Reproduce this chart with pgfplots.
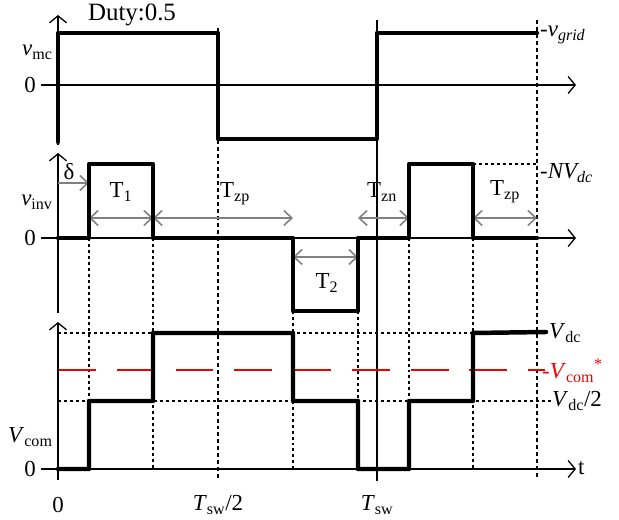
\documentclass[border=0pt]{standalone}
\usepackage{fontspec}
\setmainfont{Liberation Serif}
\usepackage{pgfplots}
\pgfplotsset{compat=1.18}
\usetikzlibrary{arrows.meta}
\newcommand{\sub}[1]{\textsubscript{#1}}
\definecolor{arrgray}{RGB}{128,128,128}
\definecolor{myred}{RGB}{240,0,0}
\begin{document}
\begin{tikzpicture}[font=\fontsize{23}{26}\selectfont]
\begin{axis}[width=619bp,height=520bp,scale only axis,
  xmin=0,xmax=619,ymin=0,ymax=520,y dir=reverse,hide axis,clip=false,
  ax/.style={black,line width=1.2pt,-{Straight Barb[length=7pt,width=17pt,line width=1.3pt]}},
  axn/.style={black,line width=1.2pt},
  wave/.style={black,line width=4.5pt,line join=round,line cap=round},
  thindot/.style={black,line width=1.4pt,dash pattern=on 3pt off 3pt},
  thickdot/.style={black,line width=2.4pt,dash pattern=on 4pt off 3pt},
  garr/.style={arrgray,line width=1.6pt,{Straight Barb[length=8pt,width=15pt,line width=1.6pt]}-{Straight Barb[length=8pt,width=15pt,line width=1.6pt]}},
  garr1/.style={arrgray,line width=1.6pt,-{Straight Barb[length=8pt,width=15pt,line width=1.6pt]}},
]
\path (axis cs:0,0) rectangle (axis cs:619,520);
% ---------- guide lines ----------
\addplot[thickdot] coordinates {(218,28) (218,478)};
\addplot[thickdot] coordinates {(537,20) (537,477)};
\addplot[axn] coordinates {(377,20) (377,481)};
\addplot[thindot] coordinates {(89,238) (89,469)};
\addplot[thindot] coordinates {(153,238) (153,469)};
\addplot[thindot] coordinates {(293,311) (293,469)};
\addplot[thindot] coordinates {(358,311) (358,469)};
\addplot[thindot] coordinates {(409,238) (409,469)};
\addplot[thindot] coordinates {(473,238) (473,469)};
\addplot[thindot] coordinates {(473,164) (537,164)};
\addplot[thindot] coordinates {(58,333) (547,333)};
\addplot[thindot] coordinates {(58,401) (552,401)};
\addplot[myred,line width=2pt,dash pattern=on 38pt off 21pt] coordinates {(58,370) (545,370)};
% ---------- axes ----------
\addplot[ax] coordinates {(58,145) (58,15)};
\addplot[ax] coordinates {(41,85) (576,85)};
\addplot[ax] coordinates {(58,313) (58,153)};
\addplot[ax] coordinates {(41,238) (576,238)};
\addplot[ax] coordinates {(58,480) (58,322)};
\addplot[ax] coordinates {(41,469) (576,469)};
% ---------- gray interval arrows ----------
\addplot[garr1] coordinates {(58,183) (89,183)};
\addplot[garr] coordinates {(89,218) (153,218)};
\addplot[garr] coordinates {(153,218) (293,218)};
\addplot[garr] coordinates {(293,257) (358,257)};
\addplot[garr] coordinates {(358,218) (409,218)};
\addplot[garr] coordinates {(473,218) (537,218)};
% ---------- waveforms ----------
\addplot[wave] coordinates {(58,142) (58,33) (218,33) (218,139) (377,139) (377,33) (537,33)};
\addplot[wave] coordinates {(58,238) (89,238) (89,164) (153,164) (153,238) (293,238) (293,311) (358,311) (358,238) (409,238) (409,164) (473,164) (473,238) (537,238)};
\addplot[wave] coordinates {(58,469) (89,469) (89,401) (153,401) (153,333) (293,333) (293,401) (358,401) (358,469) (409,469) (409,401) (473,401) (473,333) (546,332)};
% ---------- labels ----------
\node[font=\fontsize{25}{28}\selectfont] at (axis cs:132,15) {Duty:0.5};
\node[anchor=east] at (axis cs:56,52) {\textit{v}\sub{mc}};
\node at (axis cs:30,85) {0};
\node[anchor=west,inner sep=1pt] at (axis cs:539,35) {-\textit{v\sub{grid}}};
\node[anchor=east] at (axis cs:56,202) {\textit{v}\sub{inv}};
\node at (axis cs:30,238) {0};
\node[anchor=west,inner sep=1pt] at (axis cs:539,173) {-\textit{NV\sub{dc}}};
\node at (axis cs:69,172) {δ};
\node at (axis cs:121,192) {T\sub{1}};
\node at (axis cs:235,194) {T\sub{zp}};
\node at (axis cs:327,283) {T\sub{2}};
\node at (axis cs:382,192) {T\sub{zn}};
\node at (axis cs:505,192) {T\sub{zp}};
\node[anchor=east] at (axis cs:56,437) {\textit{V}\sub{com}};
\node at (axis cs:30,469) {0};
\node[anchor=west,inner sep=1pt] at (axis cs:548,333) {\textit{V}\sub{dc}};
\node[anchor=west,inner sep=1pt,text=myred] at (axis cs:541,371) {-\textit{V}\sub{com}\textsuperscript{*}};
\node[anchor=west,inner sep=1pt] at (axis cs:551,401) {\textit{V}\sub{dc}/2};
\node[anchor=west,inner sep=1pt] at (axis cs:577,468) {t};
\node at (axis cs:58,505) {0};
\node at (axis cs:218,505) {\textit{T}\sub{sw}/2};
\node at (axis cs:377,505) {\textit{T}\sub{sw}};
\end{axis}
\end{tikzpicture}
\end{document}
